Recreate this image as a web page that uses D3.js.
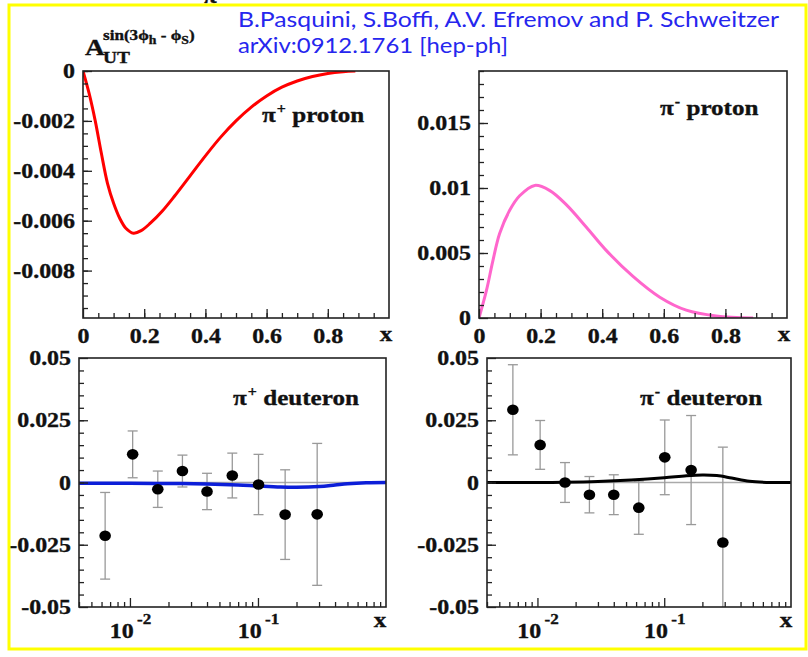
<!DOCTYPE html>
<html><head><meta charset="utf-8">
<script src="https://cdn.jsdelivr.net/npm/d3@7"></script>
<style>body{margin:0;background:#fff} svg{display:block}</style>
</head><body>
<svg id="chart" width="808" height="657"></svg>
<script>
// ---- model curves: pi+ / pi- on a proton target (linear x) ----
const protonPlusX  = [0, 0.02, 0.04, 0.06, 0.08, 0.10, 0.12, 0.14, 0.165, 0.19, 0.22, 0.26, 0.30, 0.35, 0.40, 0.45, 0.50, 0.55, 0.60, 0.65, 0.70, 0.75, 0.80, 0.85, 0.89];
const protonPlusA  = [0, -0.0009, -0.0020, -0.0033, -0.0045, -0.0053, -0.0059, -0.0063, -0.0065, -0.0064, -0.0061, -0.0056, -0.0050, -0.0042, -0.0034, -0.00265, -0.0020, -0.00145, -0.0010, -0.00065, -0.0004, -0.00022, -0.0001, -0.00003, 0];
const protonMinusX = [0, 0.024, 0.045, 0.067, 0.1, 0.132, 0.181, 0.23, 0.284, 0.348, 0.413, 0.5, 0.587, 0.673, 0.77, 0.89];
const protonMinusA = [0, 0.0021, 0.0044, 0.0065, 0.0083, 0.0094, 0.0102, 0.0098, 0.0087, 0.0070, 0.0052, 0.0032, 0.0016, 0.0006, 0.00015, 0];

// ---- deuteron: model curves (log x) ----
const deutPlusX  = [0.004, 0.01, 0.02, 0.04, 0.07, 0.1, 0.15, 0.2, 0.3, 0.4, 0.5, 0.7, 1.0];
const deutPlusA  = [-0.0003, -0.0003, -0.0004, -0.0006, -0.0010, -0.0014, -0.0018, -0.0019, -0.0016, -0.0010, -0.0005, -0.0001, 0];
const deutMinusX = [0.004, 0.01, 0.016, 0.03, 0.055, 0.1, 0.15, 0.2, 0.26, 0.34, 0.47, 0.7, 1.0];
const deutMinusA = [0, 0, 0.0001, 0.0004, 0.001, 0.0019, 0.0027, 0.003, 0.0028, 0.0018, 0.0005, 0, 0];

// ---- deuteron: measured points ----
const dataX          = [0.0064, 0.0105, 0.0165, 0.0257, 0.040, 0.063, 0.101, 0.163, 0.29];
const deutPlusData   = [-0.0214, 0.0113, -0.0027, 0.0046, -0.0036, 0.0028, -0.0008, -0.0129, -0.0128];
const deutPlusErr    = [0.0174, 0.0094, 0.0073, 0.0064, 0.0073, 0.0090, 0.0121, 0.0180, 0.0285];
const deutMinusData  = [0.0292, 0.0151, 0.0, -0.0049, -0.0049, -0.0101, 0.0101, 0.0050, -0.0241];
const deutMinusErr   = [0.0181, 0.0098, 0.0080, 0.0073, 0.0080, 0.0107, 0.0150, 0.0219, 0.0383];

// ---- tick labels ----
const protonPlusTicks  = [0, -0.002, -0.004, -0.006, -0.008];
const protonMinusTicks = [0, 0.005, 0.01, 0.015];
const deutTicks        = [-0.05, -0.025, 0, 0.025, 0.05];
const linXTicks        = [0, 0.2, 0.4, 0.6, 0.8];
const logXTicks        = [0.01, 0.1];

const SERIF = "'Liberation Serif','Times New Roman',serif";
const SX = 1.14; // wide serif lettering

const svg = d3.select("#chart");
svg.append("rect").attr("width", 808).attr("height", 657).attr("fill", "#fff");

function styleText(sel, size) {
  sel.style("font-family", SERIF).style("font-weight", "bold")
     .style("font-size", size + "px").attr("fill", "#111")
     .attr("stroke", "#111").attr("stroke-width", 0.35);
}
function label(g, x, y, anchor, size) {
  const t = g.append("text")
    .attr("transform", `translate(${x},${y}) scale(${SX},1)`)
    .attr("text-anchor", anchor);
  styleText(t, size);
  return t;
}
const fmt = v => v === 0 ? "0" : String(v);

function logMinor(lo, hi) {
  const out = [];
  for (let e = Math.floor(Math.log10(lo)); e <= Math.ceil(Math.log10(hi)); e++)
    for (let m = 1; m <= 9; m++) {
      const v = m * Math.pow(10, e);
      if (v >= lo * 0.999 && v <= hi * 1.001 && m !== 1) out.push(v);
    }
  return out;
}

function drawPanel(o) {
  const g = svg.append("g");
  const [L, R] = o.x.range();
  const [B, T] = o.y.range();
  const id = "clip-" + o.name;
  g.append("clipPath").attr("id", id).append("rect")
    .attr("x", L).attr("y", T).attr("width", R - L).attr("height", B - T);
  const plot = g.append("g").attr("clip-path", `url(#${id})`);

  // axes: ticks point into the frame
  const ya = g.append("g").attr("transform", `translate(${L},0)`);
  ya.append("g").call(d3.axisLeft(o.y).tickValues(o.yMinor).tickSize(-5).tickFormat(""));
  const yMaj = ya.append("g").call(d3.axisLeft(o.y).tickValues(o.yMajor).tickSize(-9).tickPadding(7).tickFormat(fmt));
  const xa = g.append("g").attr("transform", `translate(0,${B})`);
  xa.append("g").call(d3.axisBottom(o.x).tickValues(o.xMinor).tickSize(-5).tickFormat(""));
  const xMaj = xa.append("g").call(d3.axisBottom(o.x).tickValues(o.xMajor).tickSize(-9).tickPadding(10)
    .tickFormat(o.log ? "" : fmt));
  g.selectAll(".domain").remove();
  g.selectAll(".tick line").attr("stroke", "#222").attr("stroke-width", 1.3);
  [yMaj, xMaj].forEach(a => {
    const t = a.selectAll("text");
    styleText(t, 21);
    t.attr("transform", `scale(${SX},1)`);
  });
  if (o.log) {
    xMaj.selectAll(".tick").append("text")
      .attr("transform", `translate(0,31) scale(${SX},1)`)
      .attr("text-anchor", "middle")
      .call(t => styleText(t, 21))
      .each(function(d) {
        const t = d3.select(this);
        t.append("tspan").text("10");
        t.append("tspan").attr("dy", -14).attr("dx", 3).style("font-size", "15px")
          .text(String(Math.round(Math.log10(d))));
      });
  }

  if (o.zeroLine) {
    plot.append("line").attr("x1", L).attr("x2", R)
      .attr("y1", o.y(0)).attr("y2", o.y(0))
      .attr("stroke", "#aaa").attr("stroke-width", 1.3);
  }

  let pts = null;
  if (o.points) {
    pts = o.points.x.map((xv, i) => ({x: xv, v: o.points.v[i], e: o.points.e[i]}));
    const eb = plot.append("g").attr("stroke", "#999").attr("stroke-width", 1.3);
    pts.forEach(p => {
      const cx = o.x(p.x), y1 = o.y(p.v + p.e), y2 = o.y(p.v - p.e);
      eb.append("line").attr("x1", cx).attr("x2", cx).attr("y1", y1).attr("y2", y2);
      eb.append("line").attr("x1", cx - 5).attr("x2", cx + 5).attr("y1", y1).attr("y2", y1);
      eb.append("line").attr("x1", cx - 5).attr("x2", cx + 5).attr("y1", y2).attr("y2", y2);
    });
  }

  const line = d3.line().x(d => o.x(d[0])).y(d => o.y(d[1])).curve(d3.curveCatmullRom.alpha(0.5));
  plot.append("path").datum(o.curve.x.map((xv, i) => [xv, o.curve.a[i]]))
    .attr("d", line).attr("fill", "none")
    .attr("stroke", o.curve.color).attr("stroke-width", o.curve.width)
    .attr("stroke-linejoin", "round");

  if (pts) {
    plot.append("g").selectAll("ellipse").data(pts).join("ellipse")
      .attr("cx", d => o.x(d.x)).attr("cy", d => o.y(d.v))
      .attr("rx", 5.8).attr("ry", 5.3).attr("fill", "#000");
  }

  g.append("rect").attr("x", L).attr("y", T).attr("width", R - L).attr("height", B - T)
    .attr("fill", "none").attr("stroke", "#222").attr("stroke-width", 1.6);

  label(g, o.xLabel[0], o.xLabel[1], "middle", 22).text("x");

  const tt = label(g, o.title.x, o.title.y, "start", 22);
  tt.append("tspan").text("\u03c0");
  tt.append("tspan").attr("dy", -9).attr("dx", 1).style("font-size", "14px").text(o.title.charge);
  tt.append("tspan").attr("dy", 9).text(" " + o.title.target);
}

// π+ proton
drawPanel({
  name: "pp",
  x: d3.scaleLinear([0, 1], [83, 389]),
  y: d3.scaleLinear([-0.0099, 0], [318, 71]),
  yMajor: protonPlusTicks, yMinor: d3.range(-0.0095, 0.0001, 0.0005),
  xMajor: linXTicks, xMinor: d3.range(0.05, 1.0, 0.05),
  curve: {x: protonPlusX, a: protonPlusA, color: "#ff0000", width: 3},
  xLabel: [386, 341], title: {x: 262, y: 122, charge: "+", target: "proton"}
});
// π- proton
drawPanel({
  name: "pm",
  x: d3.scaleLinear([0, 1], [479, 787]),
  y: d3.scaleLinear([0, 0.019], [318, 71]),
  yMajor: protonMinusTicks, yMinor: d3.range(0.001, 0.0190001, 0.001),
  xMajor: linXTicks, xMinor: d3.range(0.05, 1.0, 0.05),
  curve: {x: protonMinusX, a: protonMinusA, color: "#ff66cc", width: 3},
  xLabel: [784, 341], title: {x: 660, y: 115, charge: "-", target: "proton"}
});
// π+ deuteron
drawPanel({
  name: "dp", log: true,
  x: d3.scaleLog([0.004, 1], [79, 386]),
  y: d3.scaleLinear([-0.05, 0.05], [607, 358]),
  yMajor: deutTicks, yMinor: d3.range(-0.045, 0.05, 0.005),
  xMajor: logXTicks, xMinor: logMinor(0.004, 1),
  zeroLine: true,
  points: {x: dataX, v: deutPlusData, e: deutPlusErr},
  curve: {x: deutPlusX, a: deutPlusA, color: "#0c1ed8", width: 3.5},
  xLabel: [380, 627], title: {x: 233, y: 405, charge: "+", target: "deuteron"}
});
// π- deuteron
drawPanel({
  name: "dm", log: true,
  x: d3.scaleLog([0.004, 1], [487, 791]),
  y: d3.scaleLinear([-0.05, 0.05], [607, 358]),
  yMajor: deutTicks, yMinor: d3.range(-0.045, 0.05, 0.005),
  xMajor: logXTicks, xMinor: logMinor(0.004, 1),
  zeroLine: true,
  points: {x: dataX, v: deutMinusData, e: deutMinusErr},
  curve: {x: deutMinusX, a: deutMinusA, color: "#000", width: 3},
  xLabel: [786, 627], title: {x: 640, y: 405, charge: "-", target: "deuteron"}
});

// asymmetry symbol on the y axis
const ttl = svg.append("g");
label(ttl, 85, 55, "start", 24).text("A");
label(ttl, 103, 63, "start", 17).text("UT");
const sup = label(ttl, 103, 40, "start", 15);
sup.append("tspan").text("sin(3\u03d5");
sup.append("tspan").attr("dy", 4).style("font-size", "12px").text("h");
sup.append("tspan").attr("dy", -4).text(" - \u03d5");
sup.append("tspan").attr("dy", 4).style("font-size", "12px").text("S");
sup.append("tspan").attr("dy", -4).text(")");

// partial glyph along the top edge of the page
label(svg, 203, 3, "start", 22).text("\u03c0");

// citation
const cite = svg.append("g").style("font-family", "Lato, 'Open Sans', sans-serif")
  .style("font-size", "21px").attr("fill", "#2626ee");
cite.append("text").attr("x", 238).attr("y", 27).attr("textLength", 541).attr("lengthAdjust", "spacingAndGlyphs")
  .text("B.Pasquini, S.Boffi, A.V. Efremov and P. Schweitzer");
cite.append("text").attr("x", 238).attr("y", 53).attr("textLength", 270).attr("lengthAdjust", "spacingAndGlyphs")
  .text("arXiv:0912.1761 [hep-ph]");

// yellow border
svg.append("rect").attr("x", 9).attr("y", 5).attr("width", 797).attr("height", 644)
  .attr("fill", "none").attr("stroke", "#ffff00").attr("stroke-width", 3);
</script>
</body></html>
